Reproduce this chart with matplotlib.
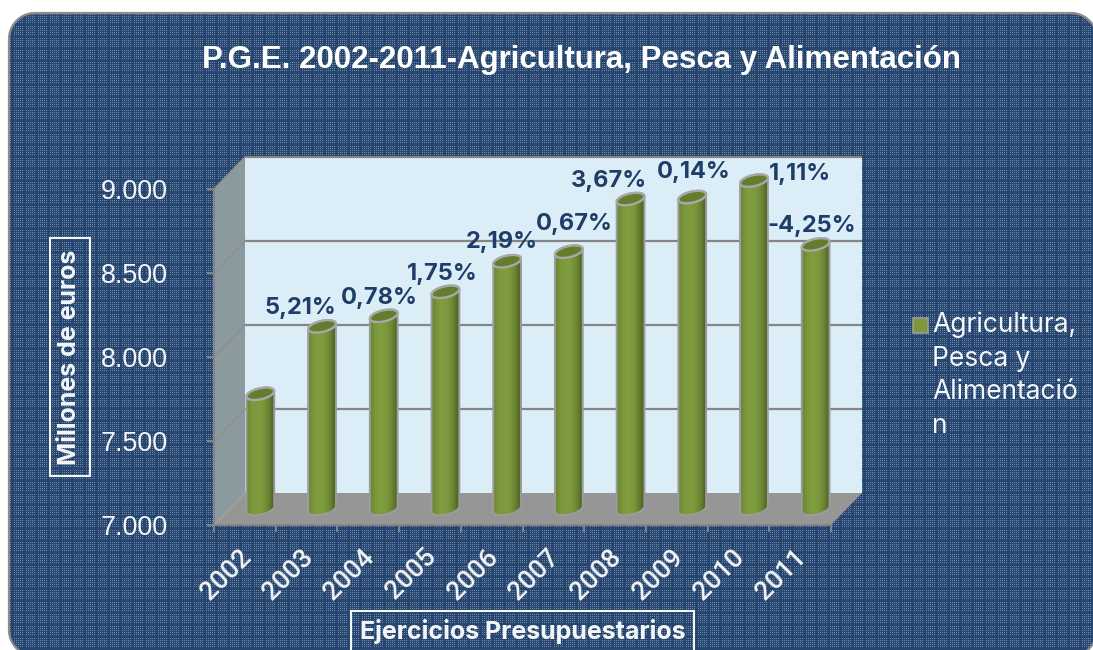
import numpy as np
import matplotlib
matplotlib.use("Agg")
import matplotlib.pyplot as plt
from matplotlib.patches import PathPatch, Polygon, Rectangle
from matplotlib.path import Path
from matplotlib.transforms import Affine2D, IdentityTransform
from matplotlib.colors import LinearSegmentedColormap

# ---------- data ----------
years = ["2002", "2003", "2004", "2005", "2006", "2007", "2008", "2009", "2010", "2011"]
values = [7686, 8087, 8150, 8293, 8475, 8532, 8845, 8857, 8955, 8575]
growth_labels = ["", "5,21%", "0,78%", "1,75%", "2,19%", "0,67%", "3,67%", "0,14%", "1,11%", "-4,25%"]
y_ticks = [7000, 7500, 8000, 8500, 9000]
y_tick_labels = ["7.000", "7.500", "8.000", "8.500", "9.000"]
title = "P.G.E. 2002-2011-Agricultura, Pesca y Alimentación"
y_label = "Millones de euros"
x_label = "Ejercicios Presupuestarios"
legend_label = "Agricultura,\nPesca y\nAlimentació\nn"

# ---------- layout ----------
W, H = 1093, 650
label_offsets = [(0, 0), (-22, 18), (-4, 18), (-3, 18), (-5, 19), (5, 28), (-22, 18), (2, 25), (46, 7), (-4, 18)]
DEPTH = (31, 32)
BAR_W = 0.45
ARIAL = ["Liberation Sans"]
WHITE = "#f4f6f8"
NAVY = "#1f3d68"
GRAY = "#858585"

fig = plt.figure(figsize=(W / 100, H / 100), dpi=100, facecolor="white")

# textured rounded panel
bg = fig.add_axes([0, 0, 1, 1], zorder=0)
bg.set_xlim(0, W); bg.set_ylim(H, 0); bg.axis("off")
yy, xx = np.mgrid[0:H, 0:W]
base = np.array([0x27, 0x46, 0x6f]) / 255
light = np.array([0x6f, 0x88, 0xa8]) / 255
dots = (xx % 2 == 0) & (yy % 2 == 0) & (xx % 12 != 0) & (yy % 12 != 0)
tex = np.where(dots[..., None], light, base)
im = bg.imshow(tex, extent=(0, W, H, 0), aspect="auto", interpolation="nearest", zorder=1)

def round_panel(x0, y0, x1, y1, r):
    t = np.linspace(0, np.pi / 2, 20)
    pts = [np.c_[x0 + r - r * np.cos(t), y0 + r - r * np.sin(t)],
           np.c_[x1 - r + r * np.sin(t), y0 + r - r * np.cos(t)],
           np.c_[x1 - r + r * np.cos(t), y1 - r + r * np.sin(t)],
           np.c_[x0 + r - r * np.sin(t), y1 - r + r * np.cos(t)]]
    return np.vstack(pts)

panel = Polygon(round_panel(9, 13, 1097, 656, 26), closed=True, facecolor="none", edgecolor="#8c8c8c",
                linewidth=1.6, zorder=2, transform=bg.transData, clip_on=False)
bg.add_patch(panel)
im.set_clip_path(panel)

# chart axes = front plane of the 3-D box
L, R, T, B = 214, 831, 189, 525
ax = fig.add_axes([L / W, (H - B) / H, (R - L) / W, (B - T) / H], zorder=1)
ax.patch.set_visible(False)
ax.set_xlim(-0.5, 9.5); ax.set_ylim(7000, 9000)
for s in ax.spines.values():
    s.set_visible(False)
ax.spines["left"].set_visible(True); ax.spines["left"].set_color(GRAY); ax.spines["left"].set_linewidth(1.4)
ax.spines["bottom"].set_visible(True); ax.spines["bottom"].set_color(GRAY); ax.spines["bottom"].set_linewidth(1.4)

ax.set_yticks(y_ticks, y_tick_labels, fontsize=19.4, color=WHITE, family=ARIAL)
ax.tick_params(axis="y", length=5, width=1.4, color=GRAY, pad=28, labelcolor=WHITE)
ax.set_xticks(np.arange(-0.5, 10))
ax.set_xticklabels([])
ax.tick_params(axis="x", which="major", length=5, width=1.4, color=GRAY)
ax.set_xticks(np.arange(len(years)), years, minor=True, fontsize=19, color=WHITE, family=["Roboto"],
              fontweight="medium", rotation=45, ha="right", rotation_mode="anchor")
ax.tick_params(axis="x", which="minor", length=0, pad=12, labelcolor=WHITE)
for t in ax.get_xticklabels(minor=True):
    t.set_transform(t.get_transform() + Affine2D().translate(-6, -3))

def disp(x, v, depth=0.0):
    px, py = ax.transData.transform((x, v))
    return np.array([px + DEPTH[0] * depth, py + DEPTH[1] * depth])

back = ax.transData + Affine2D().translate(*DEPTH)
mid = ax.transData + Affine2D().translate(DEPTH[0] / 2, DEPTH[1] / 2)
pix = IdentityTransform()

# walls and floor
ax.add_patch(Rectangle((-0.5, 7000), 10, 2000, facecolor="#dbeef7", edgecolor="none", transform=back, clip_on=False, zorder=1))
ax.add_patch(Polygon([disp(-0.5, 7000), disp(-0.5, 9000), disp(-0.5, 9000, 1), disp(-0.5, 7000, 1)],
                     facecolor="#8b9a9e", edgecolor="none", transform=pix, clip_on=False, zorder=1.2))
ax.add_patch(Polygon([disp(-0.5, 7000), disp(9.5, 7000), disp(9.5, 7000, 1), disp(-0.5, 7000, 1)],
                     facecolor="#969696", edgecolor="none", transform=pix, clip_on=False, zorder=1.3))
ax.hlines(y_ticks[1:], -0.5, 9.5, colors=GRAY, linewidth=1.6, transform=back, clip_on=False, zorder=1.5)
for v in y_ticks[1:]:
    p0, p1 = disp(-0.5, v), disp(-0.5, v, 1)
    ax.plot([p0[0], p1[0]], [p0[1], p1[1]], color="#8f8f8f", lw=1.1, transform=pix, clip_on=False, zorder=1.5, scalex=False, scaley=False)
p0, p1 = disp(-0.5, 7000), disp(-0.5, 7000, 1)
ax.plot([p0[0], p1[0]], [p0[1], p1[1]], color="#a0a0a0", lw=1.1, transform=pix, clip_on=False, zorder=1.5, scalex=False, scaley=False)

# cylinders
cmap = LinearSegmentedColormap.from_list("cyl", ["#6a8633", "#7b983c", "#7f9d3e", "#7b983c", "#6a8533", "#4d6226"])
theta = np.deg2rad(13)
half = (disp(BAR_W / 2, 7000)[0] - disp(0, 7000)[0])
b = 5.5
a = np.sqrt((half ** 2 - (b * np.sin(theta)) ** 2)) / np.cos(theta)

def ell(c, t):
    ex, ey = a * np.cos(t), b * np.sin(t)
    return np.c_[c[0] + ex * np.cos(theta) - ey * np.sin(theta), c[1] + ex * np.sin(theta) + ey * np.cos(theta)]

t0 = np.arctan2(-b * np.sin(theta), a * np.cos(theta))
for i, v in enumerate(values):
    c_low, c_top = disp(i, 7000, 0.5), disp(i, v, 0.5)
    low = ell(c_low, np.linspace(t0 + np.pi, t0 + 2 * np.pi, 40))
    up = ell(c_top, np.linspace(t0, t0 + np.pi, 40))
    body = np.vstack([low, up, low[:1]])
    bpath = Path(body)
    edges = np.linspace(i - BAR_W / 2, i + BAR_W / 2, 29)
    mesh = ax.pcolormesh(edges, [6900, v + 100], np.linspace(0, 1, 28)[None, :], cmap=cmap, shading="flat",
                         transform=mid, zorder=3 + i * 0.01, linewidth=0, antialiased=False)
    mesh.set_clip_box(None)
    mesh.set_clip_path(bpath, pix)
    ax.add_patch(PathPatch(bpath, facecolor="none", edgecolor="#9c9c9c", lw=1.4, transform=pix, clip_on=False, zorder=3.1 + i * 0.01))
    top = ell(c_top, np.linspace(0, 2 * np.pi, 60))
    ax.add_patch(Polygon(top, closed=True, facecolor="#637d2c", edgecolor="#a8a8a8", lw=1.7, transform=pix, clip_on=False, zorder=3.2 + i * 0.01))
    if growth_labels[i]:
        ax.annotate(growth_labels[i], xy=(i, v), xycoords=mid, xytext=label_offsets[i], textcoords="offset pixels",
                    ha="center", va="center", fontsize=17, fontweight="bold", color=NAVY, family="Inter", zorder=6, annotation_clip=False)
ax.set_xlim(-0.5, 9.5); ax.set_ylim(7000, 9000)

# overlay text in figure pixel space
bg2 = fig.add_axes([0, 0, 1, 1], zorder=2)
bg2.set_xlim(0, W); bg2.set_ylim(H, 0); bg2.axis("off")
bg2.text(582, 60, title, ha="center", va="center", fontsize=22.5, fontweight="bold", color="white", family=ARIAL)
bg2.add_patch(Rectangle((50, 238), 40, 238, fill=False, edgecolor=WHITE, lw=1.5))
bg2.text(70, 357, y_label, rotation=90, ha="center", va="center", fontsize=18, fontweight="bold", color=WHITE, family="Inter")
bg2.add_patch(Rectangle((351, 611), 343, 40, fill=False, edgecolor=WHITE, lw=1.5))
bg2.text(523, 631, x_label, ha="center", va="center", fontsize=18, fontweight="bold", color=WHITE, family="Inter")
bg2.add_patch(Rectangle((913, 318), 15, 15, facecolor="#7b983c", edgecolor="#9c9c9c", lw=1.2))
bg2.text(932, 312, legend_label, ha="left", va="top", fontsize=19, color=WHITE, family="Inter", linespacing=1.37)

fig.savefig("out.png", dpi=100)
